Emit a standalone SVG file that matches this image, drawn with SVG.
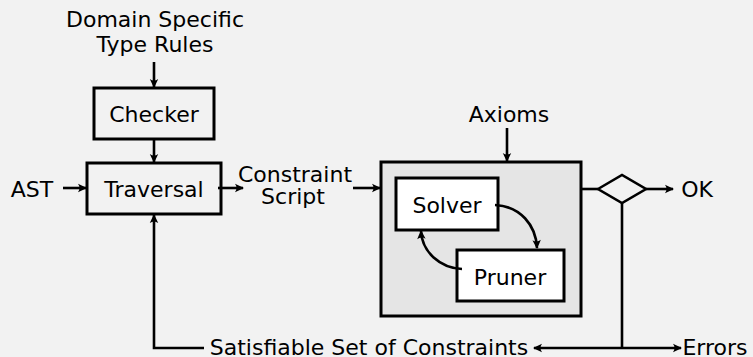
<svg xmlns="http://www.w3.org/2000/svg" width="753" height="357" viewBox="0 0 753 357">
  <defs>
    <style>
      text { font-family: "DejaVu Sans", "Liberation Sans", sans-serif; font-size: 22px; fill: #000; text-anchor: middle; }
      .box { fill: #f2f2f2; stroke: #000; stroke-width: 3; }
      .inner { fill: #fff; stroke: #000; stroke-width: 3; }
      .outer { fill: #e5e5e5; stroke: #000; stroke-width: 3; }
      .edge { fill: none; stroke: #000; stroke-width: 2.6; }
      .arr { marker-end: url(#tip); }
    </style>
    <marker id="tip" markerUnits="userSpaceOnUse" markerWidth="14" markerHeight="12" viewBox="-10 -6 12 12" refX="0" refY="0" orient="auto-start-reverse">
      <path d="M1,0 L-8,-4.2 Q-5,0 -8,4.2 Z" fill="#000"/>
    </marker>
  </defs>

  <rect width="753" height="357" fill="#f2f2f2"/>

  <g id="rules">
    <text x="155" y="27">Domain Specific</text>
    <text x="155" y="52">Type Rules</text>
  </g>

  <g id="checker">
    <rect class="box" x="94" y="88" width="120" height="51"/>
    <text x="154" y="122">Checker</text>
  </g>

  <g id="traversal">
    <rect class="box" x="87" y="163" width="134" height="51"/>
    <text x="154" y="197">Traversal</text>
  </g>

  <g id="ast">
    <text x="32" y="197">AST</text>
  </g>

  <g id="script">
    <text x="295" y="182">Constraint</text>
    <text x="293" y="204">Script</text>
  </g>

  <g id="axioms">
    <text x="509" y="122">Axioms</text>
  </g>

  <g id="engine">
    <rect class="outer" x="381" y="162" width="200" height="154"/>
  </g>

  <g id="solver">
    <rect class="inner" x="396" y="178" width="102" height="52"/>
    <text x="447" y="213">Solver</text>
  </g>

  <g id="pruner">
    <rect class="inner" x="457" y="250" width="107" height="51"/>
    <text x="510" y="285">Pruner</text>
  </g>

  <g id="decision">
    <polygon points="598,189 622,175 646,189 622,203" fill="#f2f2f2" stroke="#000" stroke-width="2.6"/>
  </g>

  <g id="ok">
    <text x="697" y="197">OK</text>
  </g>

  <g id="errors">
    <text x="715" y="355">Errors</text>
  </g>

  <g id="satisfiable">
    <text x="369" y="355">Satisfiable Set of Constraints</text>
  </g>

  <g id="connectors">
    <line class="edge arr" x1="154" y1="62" x2="154" y2="87"/>
    <line class="edge arr" x1="154" y1="139" x2="154" y2="162"/>
    <line class="edge arr" x1="63" y1="188" x2="86" y2="188"/>
    <line class="edge arr" x1="218" y1="188" x2="243" y2="188"/>
    <line class="edge arr" x1="353" y1="188" x2="380" y2="188"/>
    <line class="edge arr" x1="507" y1="128" x2="507" y2="161"/>
    <path class="edge arr" d="M495,205 C520,206 536,225 537,248"/>
    <path class="edge arr" d="M462,269 C440,268 422,252 421,231"/>
    <line class="edge" x1="581" y1="189" x2="598" y2="189"/>
    <line class="edge arr" x1="646" y1="189" x2="673" y2="189"/>
    <line class="edge" x1="622" y1="203" x2="622" y2="348"/>
    <line class="edge arr" x1="622" y1="348" x2="534" y2="348"/>
    <line class="edge arr" x1="622" y1="348" x2="681" y2="348"/>
    <path class="edge arr" d="M204,348 L154,348 L154,215"/>
  </g>
</svg>
